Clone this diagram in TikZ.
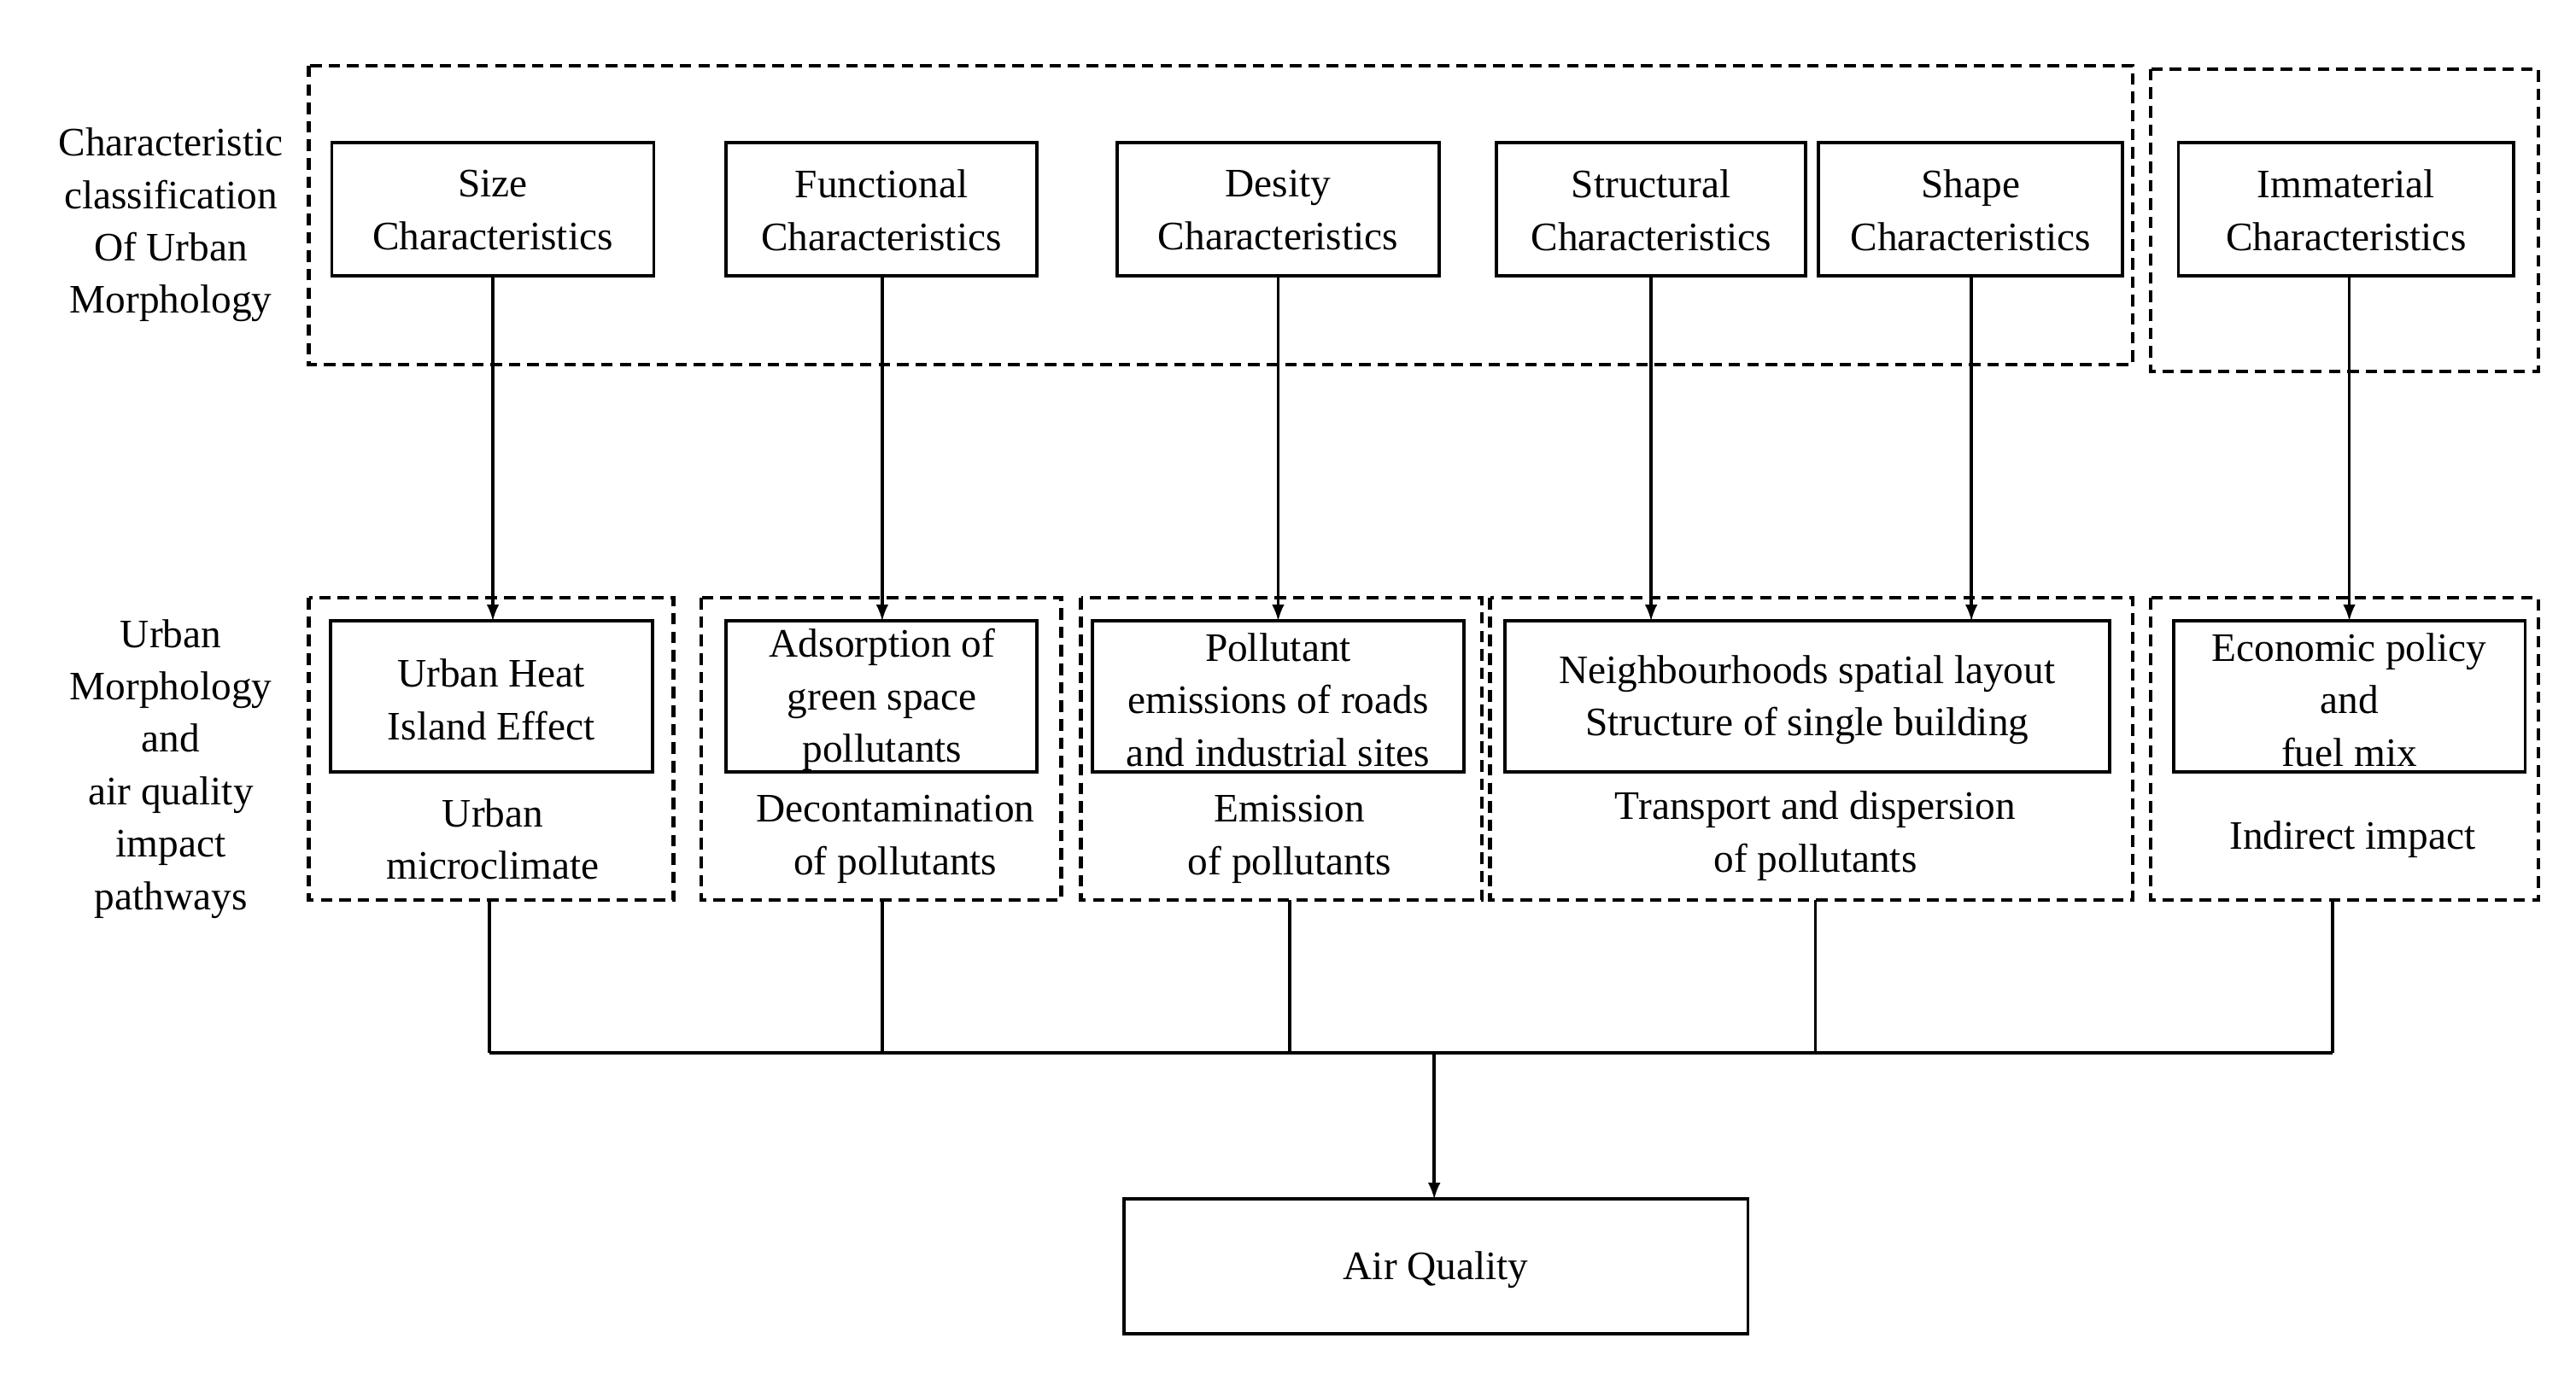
\documentclass[tikz,border=0pt]{standalone}
\usepackage{fontspec}
\setmainfont{Liberation Serif}
\begin{document}
\begin{tikzpicture}[x=0.025cm,y=-0.025cm,
 txt/.style={font=\fontsize{17.5}{22.7}\selectfont,align=center,inner sep=0},
 box/.style={draw,line width=1.4pt},
 dbox/.style={draw,line width=1.6pt,dash pattern=on 5pt off 3pt},
 arr/.style={line width=1.4pt,-{latex}}]
\useasboundingbox (0,0) rectangle (1568,843);
\draw[dbox] (188,40) rectangle (1298,222);
\draw[dbox] (1309,42) rectangle (1545,226);
\foreach \n/\a/\b/\t in {s/202/398/Size,f/442/631/Functional,d/680/876/Desity,st/911/1099/Structural,sh/1107/1292/Shape,im/1326/1530/Immaterial}{
 \draw[box] (\a,87) rectangle (\b,168);
 \node[txt] (\n) at ({(\a+\b)/2},128) {\t\\Characteristics};
 \coordinate (\n b) at ({(\a+\b)/2},168);
}
\foreach \a/\b in {188/410,427/646,658/902,907/1298,1309/1545}{\draw[dbox] (\a,364) rectangle (\b,548);}
\draw[box] (201,378) rectangle (397,470); \node[txt] at (299,426) {Urban Heat\\Island Effect};
\draw[box] (442,378) rectangle (631,470); \node[txt] at (537,426) {Adsorption of\\green space\\pollutants};
\draw[box] (665,378) rectangle (891,470); \node[txt] at (778,426) {Pollutant\\emissions of roads\\and industrial sites};
\draw[box] (916,378) rectangle (1284,470); \node[txt] at (1100,426) {Neighbourhoods spatial layout\\Structure of single building};
\draw[box] (1323,378) rectangle (1537,470); \node[txt] at (1430,426) {Economic policy\\and\\fuel mix};
\foreach \n/\x in {s/300,f/537,d/778,st/1005,sh/1200,im/1430}{
 \coordinate (\n t) at (\x,378); \draw[arr] (\x,168) -- (\n t);}
\node[txt] at (300,511) {Urban\\microclimate};
\node[txt] at (545,511) {Decontamination\\of pollutants};
\node[txt] at (785,511) {Emission\\of pollutants};
\node[txt] at (1105,509) {Transport and dispersion\\of pollutants};
\node[txt] at (1432,511) {Indirect impact};
\node[txt] at (104,137) {Characteristic\\classification\\Of Urban\\Morphology};
\node[txt] at (104,468) {Urban\\Morphology\\and\\air quality\\impact\\pathways};
\foreach \x in {298,537,785,1105,1420}{\draw[line width=1.4pt] (\x,548) -- (\x,641);}
\draw[line width=1.4pt] (298,641) -- (1420,641);
\draw[box] (684,730) rectangle (1064,812);
\node[txt] (aq) at (874,773) {Air Quality};
\coordinate (j) at (873,641); \coordinate (aqt) at (873,730);
\draw[arr] (j) -- (aqt);
\end{tikzpicture}
\end{document}
